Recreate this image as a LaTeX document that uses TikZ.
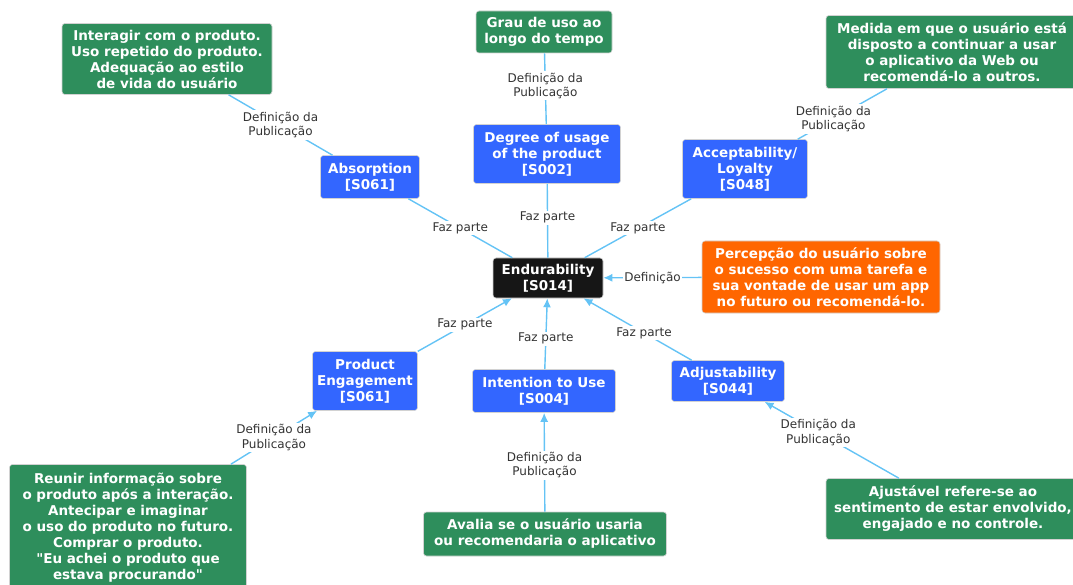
\documentclass[tikz,border=0pt]{standalone}
\usepackage{fontspec}
\setmainfont{DejaVu Sans}[Ligatures=TeXOff]
\usepackage{xcolor}
\usepackage{tikz}
\usetikzlibrary{arrows.meta}

\definecolor{pubblue}{RGB}{51,102,255}
\definecolor{defgreen}{RGB}{46,142,92}
\definecolor{noteorange}{RGB}{255,102,0}
\definecolor{coreblack}{RGB}{22,22,22}
\definecolor{linkblue}{RGB}{100,195,245}

\begin{document}
\begin{tikzpicture}[x=1pt, y=-1pt,
    box/.style={draw=gray!35, line width=0.6pt, rounded corners=3pt, text=white, align=center, inner sep=2pt, font=\fontsize{13.5}{16}\selectfont\bfseries},
    core/.style={box, fill=coreblack},
    pub/.style={box, fill=pubblue},
    defn/.style={box, fill=defgreen},
    note/.style={box, fill=noteorange},
    link/.style={draw=linkblue, line width=1.4pt},
    arrowlink/.style={link, -{Latex[length=9pt,width=8pt]}},
    rel/.style={fill=white, text=black!80, align=center, inner sep=1.5pt, font=\fontsize{12}{14.5}\selectfont}]

    \useasboundingbox (0,0) rectangle (1073,585);

    % centre
    \node [core, minimum width=110, minimum height=40] (end) at (548,278) {Endurability\\{[S014]}};

    % upper half
    \node [pub, minimum width=147, minimum height=59] (degree) at (547,154) {Degree of usage\\of the product\\{[S002]}};
    \node [defn, minimum width=136, minimum height=42] (grau) at (544,32) {Grau de uso ao\\longo do tempo};
    \node [pub, minimum width=99, minimum height=43] (absorp) at (370,177) {Absorption\\{[S061]}};
    \node [defn, minimum width=210, minimum height=71] (interagir) at (167,59) {Interagir com o produto.\\Uso repetido do produto.\\Adequação ao estilo\\de vida do usuário};
    \node [pub, minimum width=125, minimum height=59] (accept) at (745,169) {Acceptability/\\Loyalty\\{[S048]}};
    \node [defn, minimum width=252, minimum height=73] (medida) at (952,52) {Medida em que o usuário está\\disposto a continuar a usar\\o aplicativo da Web ou\\recomendá-lo a outros.};
    \node [note, minimum width=238, minimum height=72] (percep) at (821,277) {Percepção do usuário sobre\\o sucesso com uma tarefa e\\sua vontade de usar um app\\no futuro ou recomendá-lo.};

    % lower half
    \node [pub, minimum width=105, minimum height=59] (engage) at (365,381) {Product\\Engagement\\{[S061]}};
    \node [defn, minimum width=237, minimum height=127] (reunir) at (128,528) {Reunir informação sobre\\o produto após a interação.\\Antecipar e imaginar\\o uso do produto no futuro.\\Comprar o produto.\\"Eu achei o produto que\\estava procurando"};
    \node [pub, minimum width=143, minimum height=43] (intent) at (544,391) {Intention to Use\\{[S004]}};
    \node [defn, minimum width=243, minimum height=44] (avalia) at (545,534) {Avalia se o usuário usaria\\ou recomendaria o aplicativo};
    \node [pub, minimum width=113, minimum height=41] (adjust) at (728,381) {Adjustability\\{[S044]}};
    \node [defn, minimum width=254, minimum height=61] (ajust) at (953,509) {Ajustável refere-se ao\\sentimento de estar envolvido,\\engajado e no controle.};

    % connectors
    \draw [link] (interagir) -- node [rel, midway] {Definição da\\Publicação} (absorp);
    \draw [link] (grau) -- node [rel, pos=0.46] {Definição da\\Publicação} (degree);
    \draw [link] (medida) -- node [rel, pos=0.6] {Definição da\\Publicação} (accept);
    \draw [link] (absorp) -- node [rel, midway] {Faz parte} (end);
    \draw [link] (degree) -- node [rel, pos=0.46] {Faz parte} (end);
    \draw [link] (accept) -- node [rel, midway] {Faz parte} (end);
    \draw [arrowlink] (percep) -- node [rel, midway] {Definição} (end);
    \draw [arrowlink] (engage) -- node [rel, midway] {Faz parte} (end);
    \draw [arrowlink] (intent) -- node [rel, pos=0.43] {Faz parte} (end);
    \draw [arrowlink] (adjust) -- node [rel, pos=0.44] {Faz parte} (end);
    \draw [arrowlink] (reunir) -- node [rel, midway] {Definição da\\Publicação} (engage);
    \draw [arrowlink] (avalia) -- node [rel, pos=0.47] {Definição da\\Publicação} (intent);
    \draw [arrowlink] (ajust) -- node [rel, pos=0.6] {Definição da\\Publicação} (adjust);

\end{tikzpicture}
\end{document}
